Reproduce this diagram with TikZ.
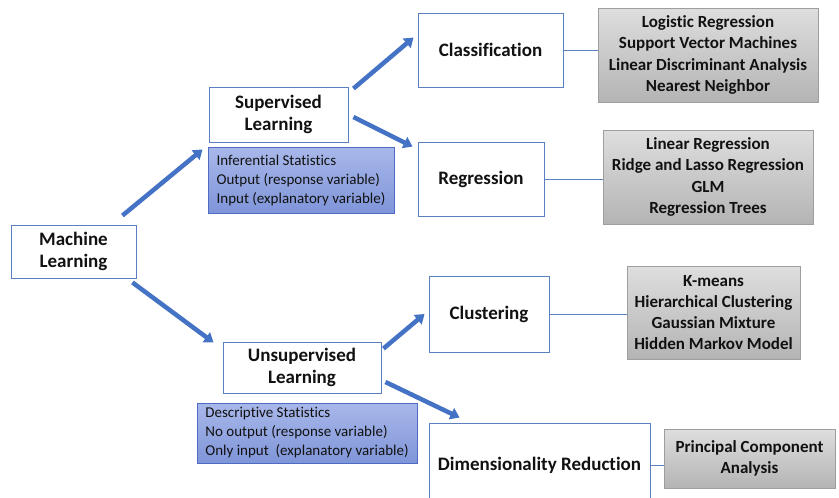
\documentclass[tikz,border=0pt]{standalone}
\usepackage{fontspec}
\setmainfont{Carlito}[Ligatures=CommonOff]
\usetikzlibrary{arrows.meta,shadings}
\definecolor{boxline}{HTML}{5B7FBF}
\definecolor{arrowblue}{HTML}{4472C4}
\definecolor{bluetop}{HTML}{A9B8EA}
\definecolor{bluebot}{HTML}{7F95D9}
\definecolor{blueline}{HTML}{4F6CC4}
\definecolor{graytop}{HTML}{DEDEDE}
\definecolor{graybot}{HTML}{B4B4B4}
\definecolor{grayline}{HTML}{9E9E9E}
\definecolor{txt}{HTML}{111111}
\tikzset{
  mlbox/.style={draw=boxline, line width=0.9pt, fill=white, align=center, inner sep=0pt,
    font=\fontsize{19}{22.5}\selectfont\bfseries, text=txt},
  bluebox/.style={draw=blueline, line width=0.9pt, top color=bluetop, bottom color=bluebot,
    align=left, inner sep=0pt, font=\fontsize{15}{19}\selectfont, text=txt},
  graybox/.style={draw=grayline, line width=0.8pt, top color=graytop, bottom color=graybot,
    align=center, inner sep=0pt, font=\fontsize{17}{21.3}\selectfont\bfseries, text=txt},
  bigarrow/.style={draw=arrowblue, line width=4.5pt, -{Triangle[length=9pt,width=12pt]}},
  thinline/.style={draw=boxline, line width=0.9pt}
}
\begin{document}
\begin{tikzpicture}[x=1pt,y=-1pt]
\clip (0,0) rectangle (839,498);
\fill[white] (0,0) rectangle (839,498);
% main boxes
\node[mlbox, minimum width=125, minimum height=53] (ml) at (73.5,251.5) {Machine\\Learning};
\node[mlbox, minimum width=139, minimum height=55] (sup) at (278.5,114.5) {Supervised\\Learning};
\node[mlbox, minimum width=145, minimum height=74] (cls) at (490.5,50) {Classification};
\node[mlbox, minimum width=126, minimum height=74] (reg) at (481,179) {Regression};
\node[mlbox, minimum width=120, minimum height=76] (clu) at (489,314) {Clustering};
\node[mlbox, minimum width=158, minimum height=51] (uns) at (302,367.5) {Unsupervised\\Learning};
\node[mlbox, minimum width=221, minimum height=84] (dim) at (539.5,465) {Dimensionality Reduction};
% blue boxes
\node[bluebox, minimum width=186, minimum height=66] (inf) at (301,180) {Inferential Statistics\\Output (response variable)\\Input (explanatory variable)};
\node[bluebox, minimum width=220, minimum height=60] (des) at (307,433) {Descriptive Statistics\\No output (response variable)\\Only input\ \ (explanatory variable)};
% gray boxes
\node[graybox, minimum width=220, minimum height=94] (clsg) at (708,55) {Logistic Regression\\Support Vector Machines\\Linear Discriminant Analysis\\Nearest Neighbor};
\node[graybox, minimum width=210, minimum height=94] (regg) at (708,177) {Linear Regression\\Ridge and Lasso Regression\\GLM\\Regression Trees};
\node[graybox, minimum width=173, minimum height=93] (clug) at (713.5,312.5) {K-means\\Hierarchical Clustering\\Gaussian Mixture\\Hidden Markov Model};
\node[graybox, minimum width=171, minimum height=59] (pca) at (749.5,458.5) {Principal Component\\Analysis};
% thin connectors
\draw[thinline] (cls.east) -- (cls.east -| clsg.west);
\draw[thinline] (reg.east) -- (reg.east -| regg.west);
\draw[thinline] (clu.east) -- (clu.east -| clug.west);
\draw[thinline] (dim.east) -- (dim.east -| pca.west);
% big arrows
\draw[bigarrow] ([shift={(-14,-9)}]ml.north east) -- ([shift={(-6,7)}]sup.south west);
\draw[bigarrow] ([shift={(-4,4)}]ml.south east) -- ([shift={(-9,1)}]uns.north west);
\draw[bigarrow] ([shift={(5,2)}]sup.north east) -- ([shift={(-4,25)}]cls.north west);
\draw[bigarrow] ([shift={(5,2.5)}]sup.east) -- ([shift={(-5,5)}]reg.north west);
\draw[bigarrow] ([shift={(2,7)}]uns.north east) -- ([shift={(-4,0)}]clu.west);
\draw[bigarrow] ([shift={(4,14.5)}]uns.east) -- ([shift={(31,-5)}]dim.north west);
\end{tikzpicture}
\end{document}
